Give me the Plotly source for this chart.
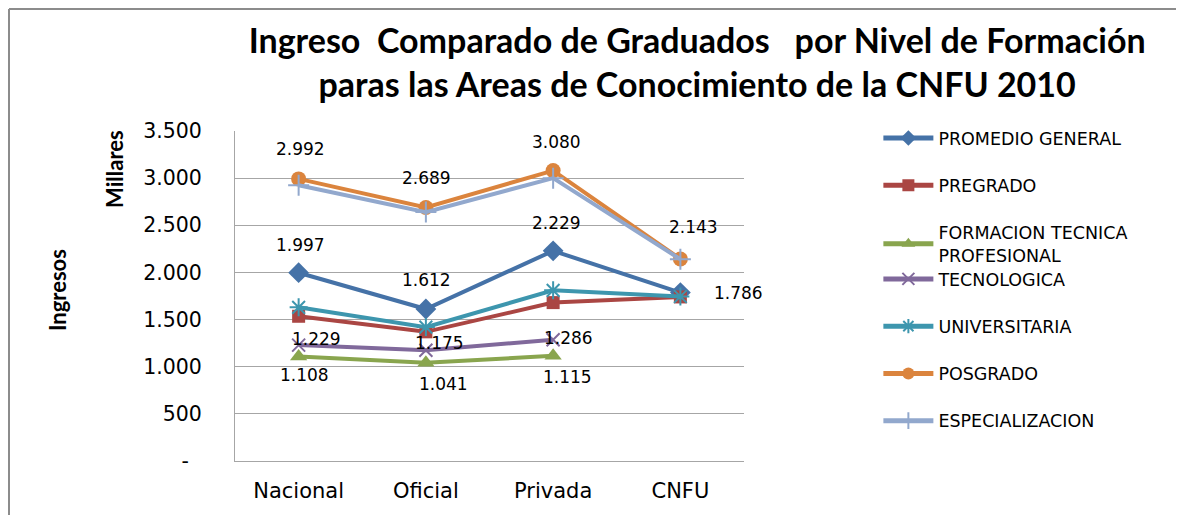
import plotly.graph_objects as go

categories = ["Nacional", "Oficial", "Privada", "CNFU"]

series_names = [
    "PROMEDIO GENERAL",
    "PREGRADO",
    "FORMACION TECNICA<br>PROFESIONAL",
    "TECNOLOGICA",
    "UNIVERSITARIA",
    "POSGRADO",
    "ESPECIALIZACION",
]

promedio_general = [1997, 1612, 2229, 1786]
pregrado = [1535, 1370, 1680, 1740]
formacion_tecnica = [1108, 1041, 1115, None]
tecnologica = [1229, 1175, 1286, None]
universitaria = [1630, 1420, 1810, 1745]
posgrado = [2992, 2689, 3080, 2143]
especializacion = [2925, 2640, 3000, 2140]

tick_values = [0, 500, 1000, 1500, 2000, 2500, 3000, 3500]
tick_labels = ["-\u00a0\u00a0", "500", "1.000", "1.500", "2.000", "2.500", "3.000", "3.500"]

all_values = [promedio_general, pregrado, formacion_tecnica, tecnologica,
              universitaria, posgrado, especializacion]

colors = ["#4572A7", "#AA4643", "#89A54E", "#80699B", "#3D96AE", "#DB843D", "#92A8CD"]
symbols = ["diamond", "square", "triangle-up", "x-thin-open", "asterisk-open",
           "circle", "cross-thin-open"]
sizes = [16, 13, 15, 13, 15, 15, 15]

# which points get data labels and their pixel offsets (xshift, yshift)
label_offsets = {
    0: [(2, 28), (1, 29), (3, 28), (58, 0)],
    2: [(6, -18), (18, -21), (14, -21), None],
    3: [(18, 6), (14, 7), (15, 2), None],
    5: [(2, 30), (1, 29), (3, 29), (13, 32)],
}

SMALL = "DejaVu Sans"

fig = go.Figure()
for i, (name, vals) in enumerate(zip(series_names, all_values)):
    open_sym = symbols[i].endswith("open")
    marker = dict(symbol=symbols[i], size=sizes[i], color=colors[i])
    if open_sym:
        marker["line"] = dict(color=colors[i], width=2)
    fig.add_trace(go.Scatter(
        x=categories, y=vals, name=name, mode="lines+markers",
        line=dict(color=colors[i], width=4),
        marker=marker,
        legend="legend" if i < 3 else "legend2",
        legendgroup=f"g{i}",
        connectgaps=False,
    ))

def fmt(v):
    return f"{v:,}".replace(",", ".")

annotations = []
for si, offs in label_offsets.items():
    for ci, off in enumerate(offs):
        v = all_values[si][ci]
        if off is None or v is None:
            continue
        annotations.append(dict(
            x=categories[ci], y=v, xref="x", yref="y", text=fmt(v),
            showarrow=False, xshift=off[0], yshift=off[1],
            font=dict(family=SMALL, size=17, color="#000000"),
        ))

annotations.append(dict(
    x=-0.2358, y=0.885, xref="paper", yref="paper", text="<b>Millares</b>",
    textangle=-90, showarrow=False, xanchor="center", yanchor="middle",
    font=dict(family="Lato", size=22, color="#000000"),
))
annotations.append(dict(
    x=-0.3497, y=0.518, xref="paper", yref="paper", text="<b>Ingresos</b>",
    textangle=-90, showarrow=False, xanchor="center", yanchor="middle",
    font=dict(family="Lato", size=22, color="#000000"),
))

fig.update_layout(
    width=1176, height=507,
    margin=dict(l=227, r=440, t=123, b=54),
    paper_bgcolor="white", plot_bgcolor="white",
    title=dict(
        text="<b>Ingreso  Comparado de Graduados   por Nivel de Formación<br>paras las Areas de Conocimiento de la CNFU 2010</b>",
        x=0.586, xanchor="center", xref="container",
        y=0.912, yanchor="top", yref="container",
        font=dict(family="Lato", size=34, color="#000000"),
    ),
    xaxis=dict(
        type="category", range=[-0.5, 3.5],
        showgrid=False, showline=True, linecolor="#A6A6A6", linewidth=1,
        ticks="", tickfont=dict(family=SMALL, size=21, color="#000000"),
        ticklabelstandoff=11,
    ),
    yaxis=dict(
        range=[0, 3500], tickvals=tick_values, ticktext=tick_labels,
        showgrid=True, gridcolor="#A6A6A6", gridwidth=1,
        showline=True, linecolor="#A6A6A6", linewidth=1,
        zeroline=False, ticks="",
        tickfont=dict(family=SMALL, size=20.5, color="#000000"),
        ticklabelstandoff=28,
    ),
    legend=dict(
        x=1.264, y=1.033, xanchor="left", yanchor="top",
        font=dict(family=SMALL, size=17.5, color="#000000"),
        tracegroupgap=21.5, itemwidth=50, itemsizing="constant",
        bgcolor="rgba(0,0,0,0)",
    ),
    legend2=dict(
        x=1.264, y=0.606, xanchor="left", yanchor="top",
        font=dict(family=SMALL, size=17.5, color="#000000"),
        tracegroupgap=21.5, itemwidth=50, itemsizing="constant",
        bgcolor="rgba(0,0,0,0)",
    ),
    showlegend=True,
    annotations=annotations,
    shapes=[
        dict(type="line", xref="paper", yref="paper", x0=-0.444, x1=1.8644,
             y0=1.3697, y1=1.3697, line=dict(color="#8C8C8C", width=2)),
        dict(type="line", xref="paper", yref="paper", x0=-0.444, x1=-0.444,
             y0=1.3697, y1=-0.1636, line=dict(color="#8C8C8C", width=2)),
    ],
)

fig.write_html("out.html")
